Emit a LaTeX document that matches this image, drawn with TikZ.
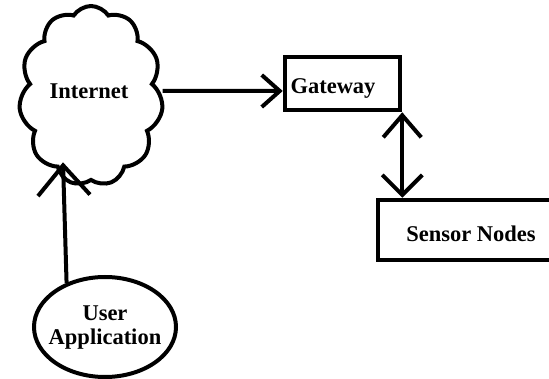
\documentclass[tikz,border=0pt]{standalone}
\usepackage{fontspec}
\setmainfont{Liberation Serif}
\usetikzlibrary{shapes.symbols,shapes.geometric,arrows.meta,calc}
\begin{document}
\begin{tikzpicture}[x=1pt,y=-1pt,
  line width=4pt,
  lbl/.style={font=\fontsize{22.5}{25}\selectfont\bfseries, text=black},
  boxnode/.style={draw, rectangle, line width=4.5pt, inner sep=0pt},
  cloudnode/.style={draw, cloud, cloud puffs=11, cloud puff arc=115, cloud ignores aspect,
    minimum width=144pt, minimum height=180pt, inner sep=0pt, line width=4pt},
  ellnode/.style={draw, ellipse, minimum width=142pt, minimum height=100pt, inner sep=0pt, line width=4pt},
  arr/.style={-{Straight Barb[length=18pt,width=32pt]}},
  arrbig/.style={-{Straight Barb[length=30pt,width=52pt]}},
  arrboth/.style={{Straight Barb[length=22pt,width=38pt]}-{Straight Barb[length=20pt,width=40pt]}}
]
\useasboundingbox (0,0) rectangle (549,379);
\node[cloudnode] (cloud) at (91,96) {};
\node[lbl] (inettxt) at (89,91) {Internet};
\node[boxnode, minimum width=115pt, minimum height=53pt] (gateway) at (342.5,83.5) {};
\node[lbl] (gwtxt) at (333,88) {Gateway};
\node[boxnode, minimum width=194pt, minimum height=60pt] (sensor) at (475,230) {};
\node[lbl] (sntxt) at (471,234) {Sensor Nodes};
\node[ellnode] (user) at (105,327) {};
\node[lbl, align=center] (usertxt) at (105,328) {User\\[-1pt]Application};
\draw[arr] ([yshift=5pt]cloud.east) -- ([yshift=-7.5pt]gateway.west);
\draw[arrboth] (gateway.south east) -- (gateway.south east |- sensor.north);
\draw[arrbig] (user.131) -- ($(cloud.south)+(-28,-20)$);
\end{tikzpicture}
\end{document}
